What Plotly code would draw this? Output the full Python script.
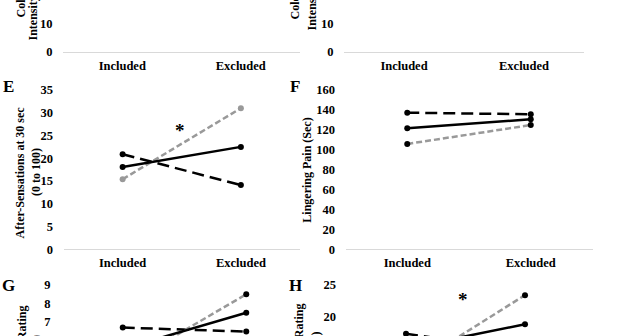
import plotly.graph_objects as go

W, H = 642, 336
FONT = "Liberation Serif, Times New Roman, serif"

categories = ["Included", "Excluded"]

# Panel E: After-Sensations at 30 sec (0 to 100)
e_solid = [18.1, 22.5]
e_dash = [20.9, 14.1]
e_gray = [15.4, 31.0]

# Panel F: Lingering Pain (Sec)
f_solid = [121.5, 130.6]
f_dash = [137.2, 135.6]
f_gray = [105.8, 124.8]

# Panel G (partially visible)
g_solid = [5.55, 7.5]
g_dash = [6.7, 6.48]
g_gray = [4.6, 8.5]

# Panel H (partially visible)
h_solid = [15.0, 18.8]
h_dash = [17.3, 14.6]
h_gray = [11.6, 23.4]

xs = list(range(len(categories)))


def px(x):
    return x / W


def py(y):
    return 1 - y / H


fig = go.Figure()

# panel geometry in pixels: (x0, x1, ytop, ybottom)
panels = {
    1: (63, 300, 0, 51.6),
    2: (344, 584, 0, 51.6),
    3: (63.5, 300, 90, 249.3),
    4: (345.5, 592.5, 90, 249.3),
    5: (61, 308, 285, 336),
    6: (346.5, 584.5, 285, 336),
}
yranges = {
    1: [0, 51.6 / 2.77],
    2: [0, 51.6 / 2.77],
    3: [0, 35],
    4: [0, 160],
    5: [9 - 51 / 18.5, 9],
    6: [25 - 51 / 6.33, 25],
}
dticks = {1: 10, 2: 10, 3: 5, 4: 20, 5: 1, 6: 5}

tickfont = dict(family=FONT, size=12.5, color="#000", weight="bold")
catfont = dict(family=FONT, size=12.5, color="#000", weight="bold")

for i, (x0, x1, yt, yb) in panels.items():
    sx = "" if i == 1 else str(i)
    show_cat = i <= 4
    fig.layout["xaxis" + sx] = dict(
        domain=[px(x0), px(x1)], anchor="y" + sx, range=[-0.5, 1.5],
        tickmode="array", tickvals=xs, ticktext=categories,
        showticklabels=show_cat, showline=show_cat, linecolor="#d9d9d9", linewidth=1,
        ticks="outside", ticklen=2, tickcolor="rgba(0,0,0,0)",
        showgrid=False, zeroline=False, tickfont=catfont, fixedrange=True,
    )
    fig.layout["yaxis" + sx] = dict(
        domain=[py(yb), py(yt)], anchor="x" + sx, range=yranges[i],
        dtick=dticks[i], tick0=0, showline=False, showgrid=False, zeroline=False,
        ticks="outside", ticklen=7, tickcolor="rgba(0,0,0,0)",
        tickfont=tickfont, fixedrange=True,
    )

# panels C and D: their lines lie above the visible crop; register the subplots
for sx in ["", "2"]:
    fig.add_trace(go.Scatter(x=[], y=[], xaxis="x" + sx, yaxis="y" + sx,
                             mode="lines", showlegend=False))


def add_series(idx, solid, dash, gray, gray_marker="#000"):
    sx = "" if idx == 1 else str(idx)
    common = dict(xaxis="x" + sx, yaxis="y" + sx, mode="lines+markers", showlegend=False)
    fig.add_trace(go.Scatter(x=xs, y=dash, line=dict(color="#000", width=2.5, dash="12px,6px"),
                             marker=dict(color="#000", size=6), **common))
    fig.add_trace(go.Scatter(x=xs, y=gray, line=dict(color="#999999", width=2.5, dash="6px,3px"),
                             marker=dict(color=gray_marker, size=6), **common))
    fig.add_trace(go.Scatter(x=xs, y=solid, line=dict(color="#000", width=2.5),
                             marker=dict(color="#000", size=6), **common))


add_series(3, e_solid, e_dash, e_gray, gray_marker="#999999")
add_series(4, f_solid, f_dash, f_gray)
add_series(5, g_solid, g_dash, g_gray)
add_series(6, h_solid, h_dash, h_gray)

ann = []


def text(x, y, t, size=12, angle=0, xa="center", ya="middle"):
    ann.append(dict(x=px(x), y=py(y), xref="paper", yref="paper", text=t, showarrow=False,
                    textangle=angle, xanchor=xa, yanchor=ya,
                    font=dict(family=FONT, size=size, color="#000", weight="bold")))


# panel letters
text(8, 87, "E", size=17)
text(295, 87, "F", size=17)
text(8, 285, "G", size=17)
text(295, 285, "H", size=17)

# y-axis titles
text(20, 172.5, "After-Sensations at 30 sec", angle=-90)
text(36.5, 172.5, "(0 to 100)", angle=-90)
text(306.7, 170, "Lingering Pain (Sec)", angle=-90)

text(20, 20, "Cold Pain", angle=-90, ya="bottom")
text(32.5, 43, "Intensity (0 to 100)", angle=-90, ya="bottom")
text(295, 22, "Cold Pain", angle=-90, ya="bottom")
text(311.5, 33, "Intensity (0 to 100)", angle=-90, ya="bottom")

text(21, 303, "Pain Rating", angle=-90, ya="top")
text(36, 333, "(0 to 10)", angle=-90, ya="top")
text(298, 302, "Pain Rating", angle=-90, ya="top")
text(315.5, 330, "(0 to 100)", angle=-90, ya="top")

# significance markers
text(180, 130, "*", size=19)
text(462.7, 299, "*", size=19)

fig.update_layout(
    width=W, height=H, margin=dict(l=0, r=0, t=0, b=0, autoexpand=False),
    paper_bgcolor="white", plot_bgcolor="white", annotations=ann,
)

fig.write_html("out.html", config={"displayModeBar": False})
